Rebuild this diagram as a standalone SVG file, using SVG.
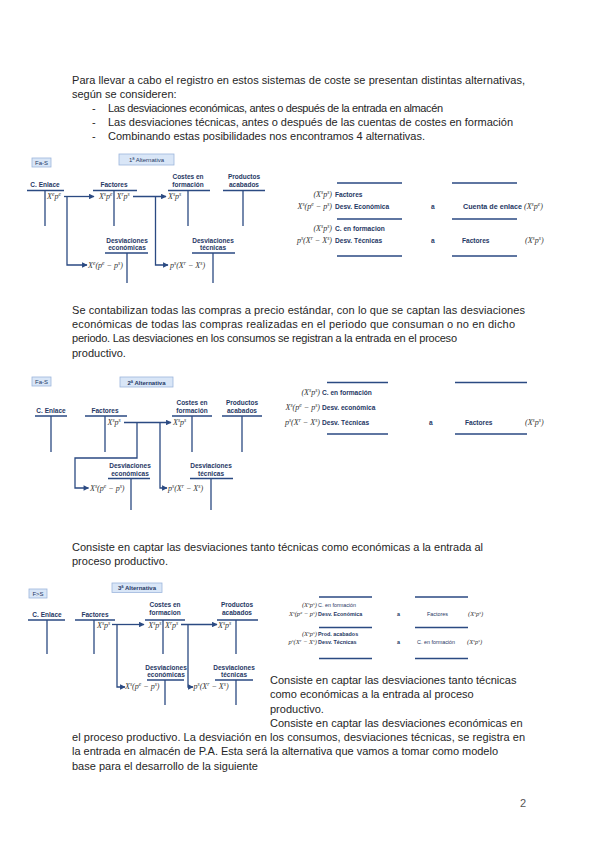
<svg xmlns="http://www.w3.org/2000/svg" width="600" height="848" viewBox="0 0 600 848">
<defs>
<marker id="ah" viewBox="0 0 10 10" refX="9" refY="5" markerWidth="6" markerHeight="5.5" orient="auto" markerUnits="userSpaceOnUse">
<path d="M0,0 L10,5 L0,10 z" fill="#2b4a82"/>
</marker>
<style>
.body{font-family:"Liberation Sans",Arial,sans-serif;font-size:11px;fill:#262626}
.lbl{font-family:"Liberation Sans",Arial,sans-serif;font-size:6.5px;font-weight:bold;fill:#1f3864;text-anchor:middle}
.jl{font-family:"Liberation Sans",Arial,sans-serif;font-size:6.6px;font-weight:bold;fill:#1f3864}
.js{font-family:"Liberation Sans",Arial,sans-serif;font-size:5.4px;font-weight:bold;fill:#1f3864}
.jn{font-family:"Liberation Sans",Arial,sans-serif;font-size:5.4px;fill:#1f3864}
.ln{stroke:#2b4a82;stroke-width:1.3;fill:none}
.cn{stroke:#2b4a82;stroke-width:1.3;fill:none}
.f{font-family:"Liberation Serif","Times New Roman",serif;font-style:italic;font-size:8px;fill:#333}
.fs{font-family:"Liberation Serif","Times New Roman",serif;font-style:italic;font-size:6.5px;fill:#333}
.fr{text-anchor:end}
.sp{font-size:70%;baseline-shift:super}
.box{fill:#d9e6f7;stroke:#9db6dc;stroke-width:0.8}
.bt{font-family:"Liberation Sans",Arial,sans-serif;font-size:6px;fill:#1f3864;text-anchor:middle}
.btb{font-family:"Liberation Sans",Arial,sans-serif;font-size:6px;font-weight:bold;fill:#1f3864;text-anchor:middle}
</style>
</defs>
<rect width="600" height="848" fill="#ffffff"/>

<!-- Paragraph 1 -->
<g id="p1">
<text class="body" x="72" y="83.5" textLength="453" lengthAdjust="spacing">Para llevar a cabo el registro en estos sistemas de coste se presentan distintas alternativas,</text>
<text class="body" x="72" y="97.7">según se consideren:</text>
<text class="body" x="92" y="111.9">-</text>
<text class="body" x="108" y="111.9" textLength="335" lengthAdjust="spacing">Las desviaciones económicas, antes o después de la entrada en almacén</text>
<text class="body" x="92" y="126.1">-</text>
<text class="body" x="108" y="126.1" textLength="405" lengthAdjust="spacing">Las desviaciones técnicas, antes o después de las cuentas de costes en formación</text>
<text class="body" x="92" y="140.3">-</text>
<text class="body" x="108" y="140.3" textLength="317" lengthAdjust="spacing">Combinando estas posibilidades nos encontramos 4 alternativas.</text>
</g>

<!-- ========== Diagram 1 ========== -->
<g id="d1-tag"><rect class="box" x="32" y="158" width="19" height="9"/><text class="bt" x="41.5" y="165">Fa-S</text></g>
<g id="d1-title"><rect class="box" x="119" y="154" width="55" height="11"/><text class="bt" x="146.5" y="162">1ª Alternativa</text></g>

<g id="d1-enlace">
<text class="lbl" x="45" y="187">C. Enlace</text>
<path class="ln" d="M27,190.5 H64 M45,190.5 V226"/>
<text class="f" x="47" y="199">X<tspan class="sp">e</tspan>p<tspan class="sp">e</tspan></text>
</g>
<g id="d1-factores">
<text class="lbl" x="114" y="187">Factores</text>
<path class="ln" d="M93,190.5 H137 M114,190.5 V226"/>
<text class="f fr" x="112.5" y="199">X<tspan class="sp">s</tspan>p<tspan class="sp">e</tspan></text>
<text class="f" x="116.5" y="199">X<tspan class="sp">r</tspan>p<tspan class="sp">s</tspan></text>
</g>
<g id="d1-costes">
<text class="lbl" x="188" y="179">Costes en</text>
<text class="lbl" x="188" y="186.5">formación</text>
<path class="ln" d="M168,190.5 H210 M188,190.5 V226"/>
<text class="f" x="168" y="199">X<tspan class="sp">s</tspan>p<tspan class="sp">s</tspan></text>
</g>
<g id="d1-productos">
<text class="lbl" x="244" y="179">Productos</text>
<text class="lbl" x="244" y="186.5">acabados</text>
<path class="ln" d="M223,190.5 H265 M243,190.5 V226"/>
</g>
<g id="d1-deco">
<text class="lbl" x="127" y="243">Desviaciones</text>
<text class="lbl" x="127" y="250">económicas</text>
<path class="ln" d="M105,253 H148 M127,253 V283"/>
<text class="f" x="88" y="268">X<tspan class="sp">e</tspan>(p<tspan class="sp">e</tspan> − p<tspan class="sp">s</tspan>)</text>
</g>
<g id="d1-dtec">
<text class="lbl" x="213" y="243">Desviaciones</text>
<text class="lbl" x="213" y="250">técnicas</text>
<path class="ln" d="M192,253 H235 M213,253 V283"/>
<text class="f" x="170" y="268">p<tspan class="sp">s</tspan>(X<tspan class="sp">r</tspan> − X<tspan class="sp">s</tspan>)</text>
</g>
<g id="d1-connectors">
<path class="cn" d="M64,196.5 H94" marker-end="url(#ah)"/>
<path class="cn" d="M67,196.5 V265 H87" marker-end="url(#ah)"/>
<path class="cn" d="M133,196.5 H166" marker-end="url(#ah)"/>
<path class="cn" d="M155.5,196.5 V265 H168" marker-end="url(#ah)"/>
</g>

<g id="d1-journal">
<path class="ln" d="M337,183 H402 M452,183 H517 M337,219 H402 M452,219 H517 M337,256 H402 M452,256 H517"/>
<text class="f fr" x="332" y="196.5">(X<tspan class="sp">s</tspan>p<tspan class="sp">s</tspan>)</text>
<text class="jl" x="335" y="196.5">Factores</text>
<text class="f fr" x="332" y="209">X<tspan class="sp">s</tspan>(p<tspan class="sp">e</tspan> − p<tspan class="sp">s</tspan>)</text>
<text class="jl" x="335" y="209">Desv. Económica</text>
<text class="jl" x="431" y="209">a</text>
<text class="jl" x="463" y="209" textLength="59" lengthAdjust="spacingAndGlyphs">Cuenta de enlace</text>
<text class="f" x="524" y="209">(X<tspan class="sp">s</tspan>p<tspan class="sp">e</tspan>)</text>
<text class="f fr" x="332" y="230.5">(X<tspan class="sp">s</tspan>p<tspan class="sp">s</tspan>)</text>
<text class="jl" x="335" y="230.5">C. en formacion</text>
<text class="f fr" x="332" y="243">p<tspan class="sp">s</tspan>(X<tspan class="sp">r</tspan> − X<tspan class="sp">s</tspan>)</text>
<text class="jl" x="335" y="243">Desv. Técnicas</text>
<text class="jl" x="431" y="243">a</text>
<text class="jl" x="462" y="243">Factores</text>
<text class="f" x="525" y="243">(X<tspan class="sp">s</tspan>p<tspan class="sp">s</tspan>)</text>
</g>

<!-- Paragraph 2 -->
<g id="p2">
<text class="body" x="72" y="314" textLength="453" lengthAdjust="spacing">Se contabilizan todas las compras a precio estándar, con lo que se captan las desviaciones</text>
<text class="body" x="72" y="328.2" textLength="443" lengthAdjust="spacing">económicas de todas las compras realizadas en el periodo que consuman o no en dicho</text>
<text class="body" x="72" y="342.4" textLength="385" lengthAdjust="spacing">periodo. Las desviaciones en los consumos se registran a la entrada en el proceso</text>
<text class="body" x="72" y="356.6">productivo.</text>
</g>

<!-- ========== Diagram 2 ========== -->
<g id="d2-tag"><rect class="box" x="32" y="377" width="19" height="9"/><text class="bt" x="41.5" y="384">Fa-S</text></g>
<g id="d2-title"><rect class="box" x="120" y="377" width="53" height="10"/><text class="btb" x="146.5" y="384.5">2ª Alternativa</text></g>

<g id="d2-enlace">
<text class="lbl" x="51" y="413">C. Enlace</text>
<path class="ln" d="M35,416 H67 M51,416 V452"/>
</g>
<g id="d2-factores">
<text class="lbl" x="105" y="413">Factores</text>
<path class="ln" d="M85,416 H127 M105,416 V452"/>
<text class="f" x="107.5" y="425">X<tspan class="sp">s</tspan>p<tspan class="sp">s</tspan></text>
</g>
<g id="d2-costes">
<text class="lbl" x="192" y="405">Costes en</text>
<text class="lbl" x="192" y="412.5">formación</text>
<path class="ln" d="M172,416 H212 M192,416 V452"/>
<text class="f" x="173" y="425">X<tspan class="sp">s</tspan>p<tspan class="sp">s</tspan></text>
</g>
<g id="d2-productos">
<text class="lbl" x="242" y="405">Productos</text>
<text class="lbl" x="242" y="412.5">acabados</text>
<path class="ln" d="M222,416 H262 M242,416 V452"/>
</g>
<g id="d2-deco">
<text class="lbl" x="130" y="468">Desviaciones</text>
<text class="lbl" x="130" y="475.5">económicas</text>
<path class="ln" d="M108,478.5 H150 M131,478.5 V510"/>
<text class="f" x="90" y="491">X<tspan class="sp">s</tspan>(p<tspan class="sp">e</tspan> − p<tspan class="sp">s</tspan>)</text>
</g>
<g id="d2-dtec">
<text class="lbl" x="211" y="468">Desviaciones</text>
<text class="lbl" x="211" y="475.5">técnicas</text>
<path class="ln" d="M190,478.5 H233 M211,478.5 V510"/>
<text class="f" x="168" y="491">p<tspan class="sp">s</tspan>(X<tspan class="sp">r</tspan> − X<tspan class="sp">s</tspan>)</text>
</g>
<g id="d2-connectors">
<path class="cn" d="M124,422.5 H171" marker-end="url(#ah)"/>
<path class="cn" d="M137,422.5 V458 H75 V488 H88.5" marker-end="url(#ah)"/>
<path class="cn" d="M160,422.5 V488 H167" marker-end="url(#ah)"/>
</g>

<g id="d2-journal">
<path class="ln" d="M327,382.5 H388 M455,382.5 H527 M327,434 H388 M455,434 H527"/>
<text class="f fr" x="320" y="395">(X<tspan class="sp">s</tspan>p<tspan class="sp">s</tspan>)</text>
<text class="jl" x="322" y="395">C. en formación</text>
<text class="f fr" x="320" y="410">X<tspan class="sp">s</tspan>(p<tspan class="sp">e</tspan> − p<tspan class="sp">s</tspan>)</text>
<text class="jl" x="322" y="410">Desv. económica</text>
<text class="f fr" x="320" y="424.5">p<tspan class="sp">s</tspan>(X<tspan class="sp">r</tspan> − X<tspan class="sp">s</tspan>)</text>
<text class="jl" x="322" y="424.5">Desv. Técnicas</text>
<text class="jl" x="429" y="424.5">a</text>
<text class="jl" x="465" y="424.5">Factores</text>
<text class="f" x="525" y="424.5">(X<tspan class="sp">s</tspan>p<tspan class="sp">s</tspan>)</text>
</g>

<!-- Paragraph 3 -->
<g id="p3">
<text class="body" x="72" y="551" textLength="411" lengthAdjust="spacing">Consiste en captar las desviaciones tanto técnicas como económicas a la entrada al</text>
<text class="body" x="72" y="565.2">proceso productivo.</text>
</g>

<!-- ========== Diagram 3 ========== -->
<g id="d3-tag"><rect class="box" x="29" y="589" width="18" height="9"/><text class="bt" x="38" y="596">F&gt;S</text></g>
<g id="d3-title"><rect class="box" x="112" y="583" width="50" height="9.5"/><text class="btb" x="137" y="590">3ª Alternativa</text></g>

<g id="d3-enlace">
<text class="lbl" x="47" y="617">C. Enlace</text>
<path class="ln" d="M28,620 H65 M47,620 V654"/>
</g>
<g id="d3-factores">
<text class="lbl" x="95" y="617">Factores</text>
<path class="ln" d="M75,620 H115 M94,620 V654"/>
<text class="f" x="97" y="627.5">X<tspan class="sp">s</tspan>p<tspan class="sp">s</tspan></text>
</g>
<g id="d3-costes">
<text class="lbl" x="165" y="607">Costes en</text>
<text class="lbl" x="165" y="614.5">formacion</text>
<path class="ln" d="M145,620 H185 M163,620 V654"/>
<text class="f fr" x="161.5" y="627.5">X<tspan class="sp">s</tspan>p<tspan class="sp">s</tspan></text>
<text class="f" x="165" y="627.5">X<tspan class="sp">r</tspan>p<tspan class="sp">s</tspan></text>
</g>
<g id="d3-productos">
<text class="lbl" x="237" y="607">Productos</text>
<text class="lbl" x="237" y="614.5">acabados</text>
<path class="ln" d="M217,620 H258 M236,620 V654"/>
<text class="f" x="218" y="627.5">X<tspan class="sp">s</tspan>p<tspan class="sp">s</tspan></text>
</g>
<g id="d3-deco">
<text class="lbl" x="166" y="669.5">Desviaciones</text>
<text class="lbl" x="166" y="677">económicas</text>
<path class="ln" d="M147,680 H184 M165,680 V705"/>
<text class="f" x="125" y="689">X<tspan class="sp">s</tspan>(p<tspan class="sp">e</tspan> − p<tspan class="sp">s</tspan>)</text>
</g>
<g id="d3-dtec">
<text class="lbl" x="234" y="669.5">Desviaciones</text>
<text class="lbl" x="234" y="677">técnicas</text>
<path class="ln" d="M215,680 H253 M236,680 V705"/>
<text class="f" x="193.5" y="689">p<tspan class="sp">s</tspan>(X<tspan class="sp">r</tspan> − X<tspan class="sp">s</tspan>)</text>
</g>
<g id="d3-connectors">
<path class="cn" d="M112,624.5 H144" marker-end="url(#ah)"/>
<path class="cn" d="M117,624.5 V687 H125" marker-end="url(#ah)"/>
<path class="cn" d="M181,624.5 H217" marker-end="url(#ah)"/>
<path class="cn" d="M188,624.5 V687 H193" marker-end="url(#ah)"/>
</g>

<g id="d3-journal">
<path class="ln" d="M319,597 H372 M415,597 H468 M319,627.5 H372 M415,627.5 H468 M319,658.5 H372 M415,658.5 H468"/>
<text class="fs fr" x="317" y="607">(X<tspan class="sp">s</tspan>p<tspan class="sp">s</tspan>)</text>
<text class="jn" x="318" y="607">C. en formación</text>
<text class="fs fr" x="317" y="616">X<tspan class="sp">s</tspan>(p<tspan class="sp">e</tspan> − p<tspan class="sp">s</tspan>)</text>
<text class="js" x="318" y="616">Desv. Económica</text>
<text class="js" x="397" y="616">a</text>
<text class="jn" x="427" y="616">Factores</text>
<text class="fs" x="468" y="616">(X<tspan class="sp">s</tspan>p<tspan class="sp">s</tspan>)</text>
<text class="fs fr" x="317" y="635.5">(X<tspan class="sp">s</tspan>p<tspan class="sp">s</tspan>)</text>
<text class="js" x="318" y="635.5">Prod. acabados</text>
<text class="fs fr" x="317" y="644">p<tspan class="sp">s</tspan>(X<tspan class="sp">r</tspan> − X<tspan class="sp">s</tspan>)</text>
<text class="js" x="318" y="644">Desv. Técnicas</text>
<text class="js" x="397" y="644">a</text>
<text class="jn" x="417" y="644">C. en formación</text>
<text class="fs" x="467" y="644">(X<tspan class="sp">s</tspan>p<tspan class="sp">s</tspan>)</text>
</g>

<!-- Paragraph 4 -->
<g id="p4">
<text class="body" x="270" y="684">Consiste en captar las desviaciones tanto técnicas</text>
<text class="body" x="270" y="698.3">como económicas a la entrada al proceso</text>
<text class="body" x="270" y="712.5">productivo.</text>
<text class="body" x="270" y="726.7">Consiste en captar las desviaciones económicas en</text>
<text class="body" x="72" y="741" textLength="453" lengthAdjust="spacing">el proceso productivo. La desviación en los consumos, desviaciones técnicas, se registra en</text>
<text class="body" x="72" y="755.3" textLength="426" lengthAdjust="spacing">la entrada en almacén de P.A. Esta será la alternativa que vamos a tomar como modelo</text>
<text class="body" x="72" y="769.6">base para el desarrollo de la siguiente</text>
</g>

<text id="page-number" class="body" x="520" y="807" style="fill:#555">2</text>
</svg>
